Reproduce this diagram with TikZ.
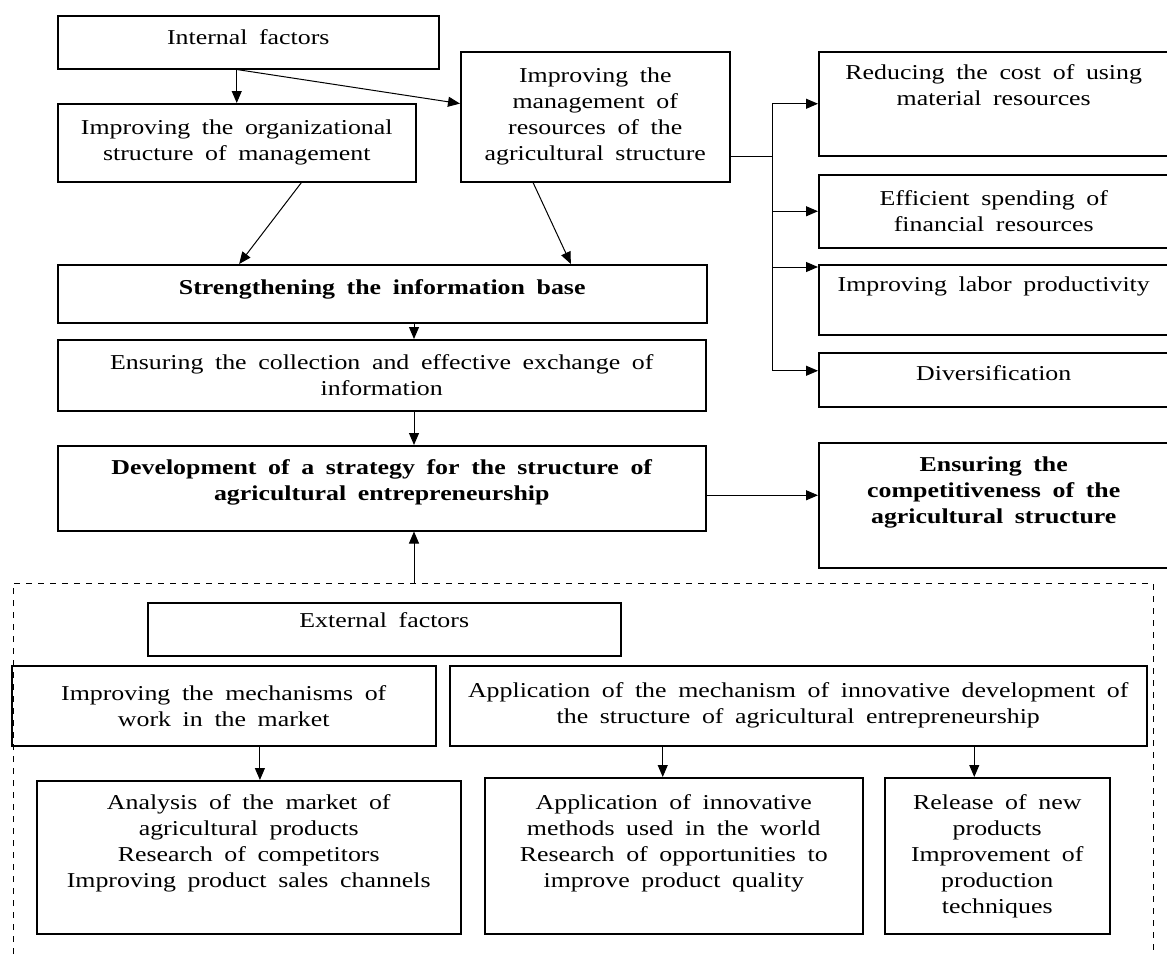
\documentclass[tikz,border=0pt]{standalone}
\usepackage{fontspec}
\setmainfont[FakeStretch=1.22,WordSpace=1.8]{Liberation Serif}
\usetikzlibrary{arrows.meta,calc,positioning}

\begin{document}
\begin{tikzpicture}[x=0.5pt,y=-0.5pt,
  font=\fontsize{10.6}{13}\selectfont,
  box/.style={draw,line width=0.75pt,anchor=north west,align=center,inner sep=0pt},
  txt/.style={align=center,inner sep=2pt},
  bold/.style={font=\fontsize{10.6}{13}\selectfont\bfseries},
  arr/.style={-{Triangle[length=6pt,width=5pt]},line width=0.5pt},
  link/.style={line width=0.5pt}]
\useasboundingbox (0,0) rectangle (1167,954);

\node[box,minimum width=190.5pt,minimum height=26.5pt] (intf) at (57,15) {};
\node[txt,below=5pt of intf.north] (intf-t) {Internal factors};
\node[box,minimum width=179pt,minimum height=39pt] (orgstr) at (57,103) {Improving the organizational\\structure of management};
\node[box,minimum width=134.5pt,minimum height=65pt] (mgmt) at (460,51) {Improving the\\management of\\resources of the\\agricultural structure};

\node[box,minimum width=175pt,minimum height=52pt] (reduce) at (818,51) {};
\node[txt,below=4.5pt of reduce.north] (reduce-t) {Reducing the cost of using\\material resources};
\node[box,minimum width=175pt,minimum height=36.5pt] (effic) at (818,174) {Efficient spending of\\financial resources};
\node[box,minimum width=175pt,minimum height=35pt] (labor) at (818,264) {};
\node[txt,below=4pt of labor.north] (labor-t) {Improving labor productivity};
\node[box,minimum width=175pt,minimum height=27pt] (divers) at (818,352) {};
\node[txt,below=4.5pt of divers.north] (divers-t) {Diversification};
\node[box,minimum width=175pt,minimum height=62.5pt] (compet) at (818,442) {};
\node[txt,bold,below=5pt of compet.north] (compet-t) {Ensuring the\\competitiveness of the\\agricultural structure};

\node[box,minimum width=324.5pt,minimum height=29pt] (strength) at (57,264) {};
\node[txt,bold,below=5.5pt of strength.north] (strength-t) {Strengthening the information base};
\node[box,minimum width=324pt,minimum height=35.5pt] (collect) at (57,339) {Ensuring the collection and effective exchange of\\information};
\node[box,minimum width=324pt,minimum height=42.5pt] (devel) at (57,445) {};
\node[txt,bold,below=5pt of devel.north] (devel-t) {Development of a strategy for the structure of\\agricultural entrepreneurship};

% external factors
\draw[dashed,line width=0.5pt] (13,954) -- (13,583) -- (1153,583) -- (1153,954);
\coordinate (ext) at (414,583);
\node[box,minimum width=236.5pt,minimum height=26.5pt] (extf) at (147,602) {};
\node[txt,below=3pt of extf.north] (extf-t) {External factors};
\node[box,minimum width=212pt,minimum height=40pt] (mech) at (11,665) {Improving the mechanisms of\\work in the market};
\node[box,minimum width=348.5pt,minimum height=40pt] (appl) at (449,665) {Application of the mechanism of innovative development of\\the structure of agricultural entrepreneurship};
\node[box,minimum width=212pt,minimum height=76.5pt] (analys) at (36,780) {};
\node[txt,below=5pt of analys.north] (analys-t) {Analysis of the market of\\agricultural products\\Research of competitors\\Improving product sales channels};
\node[box,minimum width=189pt,minimum height=78pt] (innov) at (484,777) {};
\node[txt,below=6.5pt of innov.north] (innov-t) {Application of innovative\\methods used in the world\\Research of opportunities to\\improve product quality};
\node[box,minimum width=112.5pt,minimum height=78pt] (release) at (884,777) {};
\node[txt,below=6.5pt of release.north] (release-t) {Release of new\\products\\Improvement of\\production\\techniques};

% connectors
\draw[arr] (intf.south -| orgstr.north) -- (orgstr.north);
\draw[arr] (intf.south -| orgstr.north) -- ($(mgmt.north west)!0.4!(mgmt.south west)$);
\draw[arr] ($(orgstr.south west)!0.68!(orgstr.south east)$) -- ($(strength.north west)!0.28!(strength.north east)$);
\draw[arr] ($(mgmt.south west)!0.27!(mgmt.south east)$) -- ($(strength.north west)!0.79!(strength.north east)$);
\draw[arr] (ext |- strength.south) -- (ext |- collect.north);
\draw[arr] (ext |- collect.south) -- (ext |- devel.north);
\draw[arr] (ext) -- (ext |- devel.south);

\coordinate (bus) at (772,156);
\coordinate (lab-in) at ($(labor.north west)+(0,3)$);
\coordinate (div-in) at ($(divers.west)+(0,-9)$);
\draw[link] (mgmt.east |- bus) -- (bus);
\draw[link] (bus |- reduce.west) -- (bus |- div-in);
\draw[arr] (bus |- reduce.west) -- (reduce.west);
\draw[arr] (bus |- effic.west) -- (effic.west);
\draw[arr] (bus |- lab-in) -- (lab-in);
\draw[arr] (bus |- div-in) -- (div-in);

\coordinate (dev-out) at ($(devel.east)+(0,7)$);
\draw[arr] (dev-out) -- (dev-out -| compet.west);

\coordinate (m1) at ($(mech.south west)!0.585!(mech.south east)$);
\coordinate (a1) at ($(appl.south west)!0.306!(appl.south east)$);
\coordinate (a2) at ($(appl.south west)!0.752!(appl.south east)$);
\draw[arr] (m1) -- (m1 |- analys.north);
\draw[arr] (a1) -- (a1 |- innov.north);
\draw[arr] (a2) -- (a2 |- release.north);
\end{tikzpicture}
\end{document}
